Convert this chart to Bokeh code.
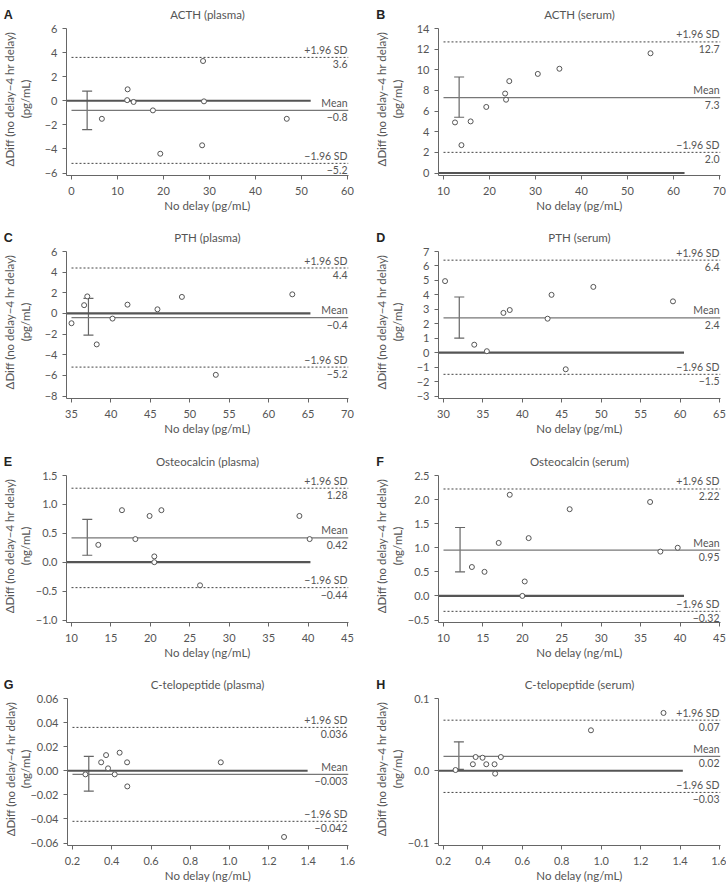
from bokeh.core.properties import value
from bokeh.embed import file_html
from bokeh.layouts import column, row
from bokeh.models import (ColumnDataSource, CustomJSTickFormatter, FixedTicker,
                          Range1d, TeeHead, Whisker)
from bokeh.plotting import figure
from bokeh.resources import INLINE

# ---------------------------------------------------------------- data ----
letters = ["A", "B", "C", "D", "E", "F", "G", "H"]
titles = ["ACTH (plasma)", "ACTH (serum)", "PTH (plasma)", "PTH (serum)",
          "Osteocalcin (plasma)", "Osteocalcin (serum)",
          "C-telopeptide (plasma)", "C-telopeptide (serum)"]
units = ["pg/mL", "pg/mL", "pg/mL", "pg/mL", "ng/mL", "ng/mL", "ng/mL", "ng/mL"]

# x: concentration without delay, y: difference (no delay - 4 hr delay)
acth_plasma_x = [6.6, 12.1, 12.2, 13.5, 17.7, 19.3, 28.4, 28.6, 28.8, 46.8]
acth_plasma_y = [-1.5, 0.05, 0.95, -0.1, -0.8, -4.4, -3.7, 3.3, -0.05, -1.5]
acth_serum_x = [12.5, 13.9, 15.9, 19.3, 23.4, 23.6, 24.3, 30.5, 35.2, 55.0]
acth_serum_y = [4.9, 2.7, 5.0, 6.4, 7.7, 7.1, 8.9, 9.6, 10.1, 11.6]
pth_plasma_x = [35.0, 36.6, 37.0, 38.2, 40.2, 42.1, 45.9, 49.0, 53.3, 63.0]
pth_plasma_y = [-0.95, 0.8, 1.65, -3.0, -0.5, 0.85, 0.4, 1.6, -5.95, 1.85]
pth_serum_x = [30.2, 33.9, 35.5, 37.6, 38.4, 43.2, 43.7, 45.5, 49.0, 59.1]
pth_serum_y = [4.95, 0.55, 0.1, 2.75, 2.95, 2.35, 4.0, -1.15, 4.55, 3.55]
osteo_plasma_x = [13.4, 16.4, 18.1, 19.9, 20.5, 20.5, 21.4, 26.3, 38.9, 40.2]
osteo_plasma_y = [0.3, 0.9, 0.4, 0.8, 0.1, 0.0, 0.9, -0.4, 0.8, 0.4]
osteo_serum_x = [13.6, 15.2, 17.0, 18.4, 20.0, 20.3, 20.8, 26.0, 36.2, 37.5, 39.7]
osteo_serum_y = [0.6, 0.5, 1.1, 2.1, 0.0, 0.3, 1.2, 1.8, 1.95, 0.92, 1.0]
ctx_plasma_x = [0.266, 0.346, 0.371, 0.381, 0.415, 0.44, 0.478, 0.479, 0.955, 1.277]
ctx_plasma_y = [-0.003, 0.007, 0.013, 0.002, -0.003, 0.015, 0.007, -0.013, 0.007, -0.055]
ctx_serum_x = [0.261, 0.349, 0.363, 0.398, 0.417, 0.459, 0.462, 0.491, 0.948, 1.316]
ctx_serum_y = [0.001, 0.009, 0.019, 0.018, 0.009, 0.009, -0.004, 0.019, 0.056, 0.080]

xs = [acth_plasma_x, acth_serum_x, pth_plasma_x, pth_serum_x,
      osteo_plasma_x, osteo_serum_x, ctx_plasma_x, ctx_serum_x]
ys = [acth_plasma_y, acth_serum_y, pth_plasma_y, pth_serum_y,
      osteo_plasma_y, osteo_serum_y, ctx_plasma_y, ctx_serum_y]

# limits of agreement and mean difference
upper_loa = [3.6, 12.7, 4.4, 6.4, 1.28, 2.22, 0.036, 0.07]
mean_diff = [-0.8, 7.3, -0.4, 2.4, 0.42, 0.95, -0.003, 0.02]
lower_loa = [-5.2, 2.0, -5.2, -1.5, -0.44, -0.32, -0.042, -0.03]
loa_decimals = [1, 1, 1, 1, 2, 2, 3, 2]

# confidence interval of the mean difference
ci_x = [3.4, 13.4, 37.15, 32.0, 12.0, 12.1, 0.283, 0.278]
ci_hi = [0.8, 9.3, 1.45, 3.85, 0.74, 1.42, 0.012, 0.040]
ci_lo = [-2.4, 5.4, -2.1, 1.0, 0.12, 0.5, -0.017, 0.002]

# extent of the zero reference line
zero_end = [52.0, 62.4, 65.3, 60.5, 40.3, 40.5, 1.397, 1.414]

# axis ticks
x_ticks = [[0, 10, 20, 30, 40, 50, 60],
           [10, 20, 30, 40, 50, 60, 70],
           [35, 40, 45, 50, 55, 60, 65, 70],
           [30, 35, 40, 45, 50, 55, 60, 65],
           [10, 15, 20, 25, 30, 35, 40, 45],
           [10, 15, 20, 25, 30, 35, 40, 45],
           [0.2, 0.4, 0.6, 0.8, 1.0, 1.2, 1.4, 1.6],
           [0.2, 0.4, 0.6, 0.8, 1.0, 1.2, 1.4, 1.6]]
y_ticks = [[-6, -4, -2, 0, 2, 4, 6],
           [0, 2, 4, 6, 8, 10, 12, 14],
           [-8, -6, -4, -2, 0, 2, 4, 6],
           [-3, -2, -1, 0, 1, 2, 3, 4, 5, 6, 7],
           [-1.0, -0.5, 0.0, 0.5, 1.0, 1.5],
           [-0.5, 0.0, 0.5, 1.0, 1.5, 2.0, 2.5],
           [-0.06, -0.04, -0.02, 0.0, 0.02, 0.04, 0.06],
           [-0.1, 0.0, 0.1]]
x_tick_decimals = [0, 0, 0, 0, 0, 0, 1, 1]
y_tick_decimals = [0, 0, 0, 0, 1, 1, 2, 1]

# --------------------------------------------------------------- style ----
FONT = "Lato"
TXT = "#555555"
AX = "#666666"
MINUS = "\u2212"

ROW_H = [223, 224, 223, 217]
HEAD_H = 21                 # strip holding panel letters and titles
FRAME_TOP = 1               # inside the plot figure, below the strip
FW, FH = 282, 153
BORDER_LEFT = [66, 75]      # left / right column
PAD_L, PAD_R = 5.0, 1.0     # px between frame edge and first/last x tick
PAD_T, PAD_B = 6.0, 2.5     # px between frame edge and top/bottom y tick
# gap between y tick labels and the y-axis title (wider tick labels -> less)
Y_LABEL_STANDOFF = [10, 10, 10, 10, 1, 1, -5, 1]


def fmt(v, d):
    s = f"{abs(v):.{d}f}"
    return (MINUS if v < 0 else "") + s


def tick_formatter(d):
    return CustomJSTickFormatter(args=dict(d=d), code="""
        const s = Math.abs(tick).toFixed(d);
        return (tick < -1e-12 ? "\\u2212" : "") + s;
    """)


def header(r):
    """Full-width strip with the panel letters and titles of one row."""
    h = figure(width=726, height=HEAD_H, output_backend="svg", toolbar_location=None,
               x_range=Range1d(0, 726), y_range=Range1d(HEAD_H, 0),
               x_axis_type=None, y_axis_type=None,
               min_border=0, min_border_left=0, min_border_right=0,
               min_border_top=0, min_border_bottom=0,
               background_fill_color="white", border_fill_color="white")
    h.outline_line_color = None
    h.grid.grid_line_color = None
    idx = [2 * r, 2 * r + 1]
    h.text(x=[3.3, 363 + 12.7], y=[14.2, 14.2], text=[letters[k] for k in idx],
           text_align="left", text_baseline="middle",
           text_font=value("Liberation Sans"), text_font_style="bold",
           text_font_size="12.5px", text_color="#222222")
    h.text(x=[c * 363 + BORDER_LEFT[c] + FW / 2 for c in (0, 1)], y=[14.2, 14.2],
           text=[titles[k] for k in idx], text_align="center",
           text_baseline="middle", text_font=value(FONT),
           text_font_size="11.5px", text_color=TXT)
    return h


def panel(i):
    h = ROW_H[i // 2] - HEAD_H
    bl = BORDER_LEFT[i % 2]
    br = 363 - bl - FW

    xt, yt = x_ticks[i], y_ticks[i]
    xppu = (FW - PAD_L - PAD_R) / (xt[-1] - xt[0])
    yppu = (FH - PAD_T - PAD_B) / (yt[-1] - yt[0])
    x0, x1 = xt[0] - PAD_L / xppu, xt[-1] + PAD_R / xppu
    y0, y1 = yt[0] - PAD_B / yppu, yt[-1] + PAD_T / yppu

    p = figure(width=363, height=h, output_backend="svg", toolbar_location=None,
               x_range=Range1d(x0, x1), y_range=Range1d(y0, y1),
               min_border_left=bl, min_border_right=br,
               min_border_top=FRAME_TOP, min_border_bottom=h - FRAME_TOP - FH,
               background_fill_color="white", border_fill_color="white")
    p.outline_line_color = None
    p.grid.grid_line_color = None

    for ax, ticks, d in ((p.xaxis[0], xt, x_tick_decimals[i]),
                         (p.yaxis[0], yt, y_tick_decimals[i])):
        ax.ticker = FixedTicker(ticks=ticks)
        ax.formatter = tick_formatter(d)
        ax.axis_line_color = AX
        ax.axis_line_width = 1
        ax.major_tick_line_color = AX
        ax.major_tick_out = 4
        ax.major_tick_in = 0
        ax.minor_tick_line_color = None
        ax.major_label_text_font = FONT
        ax.major_label_text_font_size = "11px"
        ax.major_label_text_color = TXT
        ax.major_label_standoff = 5
        ax.axis_label_text_font = FONT
        ax.axis_label_text_font_size = "11.5px"
        ax.axis_label_text_font_style = "normal"
        ax.axis_label_text_color = TXT

    # the y-axis line runs from the x-axis up to the top tick only
    p.yaxis.bounds = (y0, yt[-1])
    p.xaxis.axis_label = f"No delay ({units[i]})"
    p.xaxis.major_label_standoff = 7
    p.xaxis.axis_label_standoff = 1
    p.yaxis.axis_label = "\u0394Diff (no delay" + MINUS + "4 hr delay)\n" + f"({units[i]})"
    p.yaxis.axis_label_standoff = Y_LABEL_STANDOFF[i]

    # reference lines
    p.segment(x0=[x0], y0=[0], x1=[zero_end[i]], y1=[0],
              line_color="#555555", line_width=2.2)
    p.segment(x0=[xt[0]], y0=[mean_diff[i]], x1=[x1], y1=[mean_diff[i]],
              line_color="#777777", line_width=1.3)
    p.segment(x0=[xt[0], xt[0]], y0=[upper_loa[i], lower_loa[i]],
              x1=[x1, x1], y1=[upper_loa[i], lower_loa[i]],
              line_color="#444444", line_width=1, line_dash="2 2")

    # labels on the right end of each line
    levels = [upper_loa[i], mean_diff[i], lower_loa[i]]
    names = ["+1.96 SD", "Mean", MINUS + "1.96 SD"]
    vals = [fmt(v, loa_decimals[i]) for v in levels]
    p.text(x=[x1] * 3, y=levels, text=names, x_offset=-1, y_offset=-7.5,
           text_align="right", text_baseline="middle",
           text_font=value(FONT), text_font_size="10.5px", text_color=TXT)
    p.text(x=[x1] * 3, y=levels, text=vals, x_offset=-1, y_offset=7,
           text_align="right", text_baseline="middle",
           text_font=value(FONT), text_font_size="10.5px", text_color=TXT)

    # confidence interval of the mean
    src = ColumnDataSource(dict(base=[ci_x[i]], upper=[ci_hi[i]], lower=[ci_lo[i]]))
    p.add_layout(Whisker(source=src, base="base", upper="upper", lower="lower",
                         dimension="height", line_color="#666666", line_width=1.2,
                         upper_head=TeeHead(size=10, line_color="#666666", line_width=1.2),
                         lower_head=TeeHead(size=10, line_color="#666666", line_width=1.2)))

    # observations
    p.scatter(xs[i], ys[i], marker="circle", size=5, fill_color="white",
              line_color="#555555", line_width=1)
    return p


plots = [panel(i) for i in range(8)]
items = []
for r in range(4):
    items.append(header(r))
    items.append(row(plots[2 * r], plots[2 * r + 1], spacing=0))
layout = column(items, spacing=0)

open("out.html", "w").write(file_html(layout, INLINE))
